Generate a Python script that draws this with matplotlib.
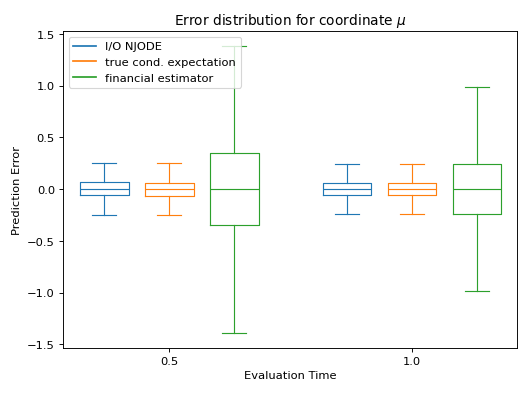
import matplotlib
matplotlib.use("Agg")
import matplotlib.pyplot as plt

# evaluation times and the three compared estimators
eval_times = [0.5, 1.0]
labels = ["I/O NJODE", "true cond. expectation", "financial estimator"]
colors = ["tab:blue", "tab:orange", "tab:green"]

# box statistics, one list per estimator, one value per time
whislo = [[-0.251, -0.242], [-0.254, -0.239], [-1.394, -0.982]]
q1 = [[-0.061, -0.055], [-0.065, -0.055], [-0.351, -0.242]]
med = [[0.0, 0.003], [-0.003, 0.003], [-0.003, 0.0]]
q3 = [[0.065, 0.061], [0.061, 0.061], [0.345, 0.248]]
whishi = [[0.254, 0.245], [0.251, 0.245], [1.385, 0.986]]

offset = 0.134
width = 0.1

fig = plt.figure(figsize=(6.4, 4.8), dpi=82.66)
ax = fig.add_axes([63 / 529, 48 / 397, 454 / 529, 317 / 397])

for k, (lab, col) in enumerate(zip(labels, colors)):
    stats = []
    for i in range(len(eval_times)):
        stats.append(dict(med=med[k][i], q1=q1[k][i], q3=q3[k][i],
                          whislo=whislo[k][i], whishi=whishi[k][i],
                          fliers=[]))
    pos = [t + (k - 1) * offset for t in eval_times]
    props = dict(color=col)
    ax.bxp(stats, positions=pos, widths=width, showfliers=False,
           boxprops=props, whiskerprops=props, capprops=props,
           medianprops=props, manage_ticks=False)
    ax.plot([], [], color=col, label=lab)

ax.set_xticks(eval_times)
ax.set_xticklabels([str(t) for t in eval_times])
ax.set_xlim(0.2808, 1.217)
ax.set_ylim(-1.536, 1.527)
ax.set_xlabel("Evaluation Time")
ax.set_ylabel("Prediction Error")
ax.set_title(r"Error distribution for coordinate $\mu$")
ax.legend(loc="upper left")

fig.savefig("out.png", dpi=82.66)
